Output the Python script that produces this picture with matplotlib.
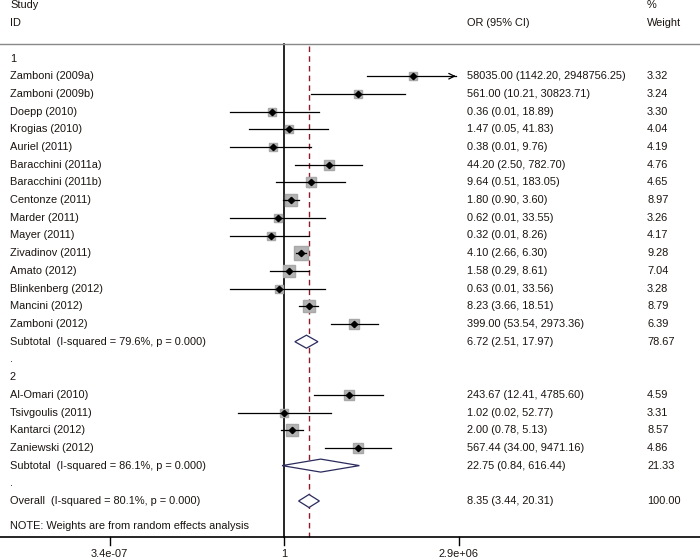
import numpy as np
import matplotlib.pyplot as plt
from matplotlib.patches import Polygon

plt.rcParams['font.family'] = ['Liberation Sans', 'DejaVu Sans']

# study rows
g1_names = ['Zamboni (2009a)', 'Zamboni (2009b)', 'Doepp (2010)', 'Krogias (2010)', 'Auriel (2011)',
            'Baracchini (2011a)', 'Baracchini (2011b)', 'Centonze (2011)', 'Marder (2011)', 'Mayer (2011)',
            'Zivadinov (2011)', 'Amato (2012)', 'Blinkenberg (2012)', 'Mancini (2012)', 'Zamboni (2012)']
g1_or = [58035.00, 561.00, 0.36, 1.47, 0.38, 44.20, 9.64, 1.80, 0.62, 0.32, 4.10, 1.58, 0.63, 8.23, 399.00]
g1_lo = [1142.20, 10.21, 0.01, 0.05, 0.01, 2.50, 0.51, 0.90, 0.01, 0.01, 2.66, 0.29, 0.01, 3.66, 53.54]
g1_hi = [2948756.25, 30823.71, 18.89, 41.83, 9.76, 782.70, 183.05, 3.60, 33.55, 8.26, 6.30, 8.61, 33.56, 18.51, 2973.36]
g1_w = [3.32, 3.24, 3.30, 4.04, 4.19, 4.76, 4.65, 8.97, 3.26, 4.17, 9.28, 7.04, 3.28, 8.79, 6.39]

g2_names = ['Al-Omari (2010)', 'Tsivgoulis (2011)', 'Kantarci (2012)', 'Zaniewski (2012)']
g2_or = [243.67, 1.02, 2.00, 567.44]
g2_lo = [12.41, 0.02, 0.78, 34.00]
g2_hi = [4785.60, 52.77, 5.13, 9471.16]
g2_w = [4.59, 3.31, 8.57, 4.86]

sub_labels = ['Subtotal  (I-squared = 79.6%, p = 0.000)', 'Subtotal  (I-squared = 86.1%, p = 0.000)']
sub_or = [6.72, 22.75]
sub_lo = [2.51, 0.84]
sub_hi = [17.97, 616.44]
sub_w = [78.67, 21.33]

overall_label = 'Overall  (I-squared = 80.1%, p = 0.000)'
overall = (8.35, 3.44, 20.31)
overall_w = 100.00

xticks = [3.4e-07, 1, 2.9e+06]
xticklabels = ['3.4e-07', '1', '2.9e+06']

W, H = 700, 560
fig = plt.figure(figsize=(7, 5.6), dpi=100)
ax = fig.add_axes([0, 0, 1, 1])
ax.set_xscale('log')
ax.set_xlim(10 ** -10.526, 10 ** 15.41)
ax.set_ylim(H, 0)
ax.axis('off')
tr = ax.get_yaxis_transform()  # x in axes fraction, y in pixel rows

fs = 7.9
txtc = '#1a1410'
col_name, col_or, col_w = 10 / W, 467 / W, 647 / W
y0, step = 58.5, 17.7
xmax = xticks[-1]


def fmt(o, l, h):
    return f'{o:.2f} ({l:.2f}, {h:.2f})'


def study(y, name, o, l, h, w):
    ax.text(col_name, y, name, transform=tr, fontsize=fs, va='center', color=txtc)
    ax.text(col_or, y, fmt(o, l, h), transform=tr, fontsize=fs, va='center', color=txtc)
    ax.text(col_w, y, f'{w:.2f}', transform=tr, fontsize=fs, va='center', color=txtc)
    side = 4.3 * np.sqrt(w) * 0.72
    ax.plot(o, y, marker='s', ms=side, color='#b4b4b4', mec='#a8a8a8', zorder=2)
    if h > xmax:
        ax.plot([l, xmax * 0.8], [y, y], color='black', lw=0.9, zorder=3)
        ax.annotate('', xy=(xmax, y), xytext=(xmax * 0.5, y),
                    arrowprops=dict(arrowstyle='->', color='black', lw=0.9), zorder=3)
    else:
        ax.plot([l, h], [y, y], color='black', lw=0.9, zorder=3)
    ax.plot(o, y, marker='D', ms=3.2, color='black', zorder=4)


def diamond(y, label, o, l, h, w):
    ax.text(col_name, y, label, transform=tr, fontsize=fs, va='center', color=txtc)
    ax.text(col_or, y, fmt(o, l, h), transform=tr, fontsize=fs, va='center', color=txtc)
    ax.text(col_w, y, f'{w:.2f}', transform=tr, fontsize=fs, va='center', color=txtc)
    d = 6.5
    ax.add_patch(Polygon([(l, y), (o, y - d), (h, y), (o, y + d)], closed=True,
                         fill=True, fc='white', ec='#2b2b5e', lw=0.9, zorder=3))


# headers
ax.text(col_name, 5, 'Study', transform=tr, fontsize=fs, va='center', color=txtc)
ax.text(col_name, 23, 'ID', transform=tr, fontsize=fs, va='center', color=txtc)
ax.text(col_or, 23, 'OR (95% CI)', transform=tr, fontsize=fs, va='center', color=txtc)
ax.text(col_w, 5, '%', transform=tr, fontsize=fs, va='center', color=txtc)
ax.text(col_w, 23, 'Weight', transform=tr, fontsize=fs, va='center', color=txtc)
ax.plot([0, 1], [43.5, 43.5], transform=tr, color='#888888', lw=1.0)

# reference lines
y_axis = 537
ax.plot([1, 1], [43.5, y_axis], color='black', lw=1.2, zorder=1)
ax.plot([overall[0], overall[0]], [46, y_axis], color='#8b1a2a', lw=1.0, ls=(0, (4, 3)), zorder=1)

row = 0
ax.text(col_name, y0, '1', transform=tr, fontsize=fs, va='center', color=txtc)
row += 1
for i in range(len(g1_names)):
    study(y0 + row * step, g1_names[i], g1_or[i], g1_lo[i], g1_hi[i], g1_w[i])
    row += 1
diamond(y0 + row * step, sub_labels[0], sub_or[0], sub_lo[0], sub_hi[0], sub_w[0])
row += 1
ax.text(col_name, y0 + row * step, '.', transform=tr, fontsize=fs, va='center', color=txtc)
row += 1
ax.text(col_name, y0 + row * step, '2', transform=tr, fontsize=fs, va='center', color=txtc)
row += 1
for i in range(len(g2_names)):
    study(y0 + row * step, g2_names[i], g2_or[i], g2_lo[i], g2_hi[i], g2_w[i])
    row += 1
diamond(y0 + row * step, sub_labels[1], sub_or[1], sub_lo[1], sub_hi[1], sub_w[1])
row += 1
ax.text(col_name, y0 + row * step, '.', transform=tr, fontsize=fs, va='center', color=txtc)
row += 1
diamond(y0 + row * step, overall_label, *overall, overall_w)
ax.text(col_name, 526, 'NOTE: Weights are from random effects analysis', transform=tr,
        fontsize=fs, va='center', color=txtc)

# x axis
ax.plot([0, 1], [y_axis, y_axis], transform=tr, color='black', lw=1.2)
for t, lab in zip(xticks, xticklabels):
    ax.plot([t, t], [y_axis, y_axis + 8], color='black', lw=1.0)
    ax.text(t, 554, lab, fontsize=fs, ha='center', va='center', color=txtc)

fig.savefig('out.png', dpi=100)
